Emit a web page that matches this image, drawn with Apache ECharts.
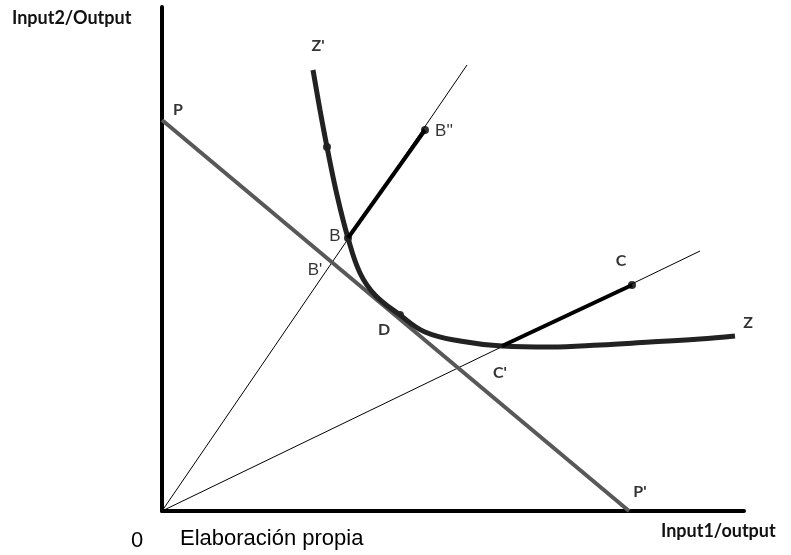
<!DOCTYPE html>
<html>
<head>
<meta charset="utf-8">
<script src="https://cdn.jsdelivr.net/npm/echarts@6/dist/echarts.min.js"></script>
<style>
  html, body { margin: 0; padding: 0; background: #fff; }
  #chart { width: 791px; height: 555px; }
</style>
</head>
<body>
<div id="chart"></div>
<script>
// isoquanta Z'Z (unidades del gráfico: origen en 0,0)
const curveZ = [
  [151, 441], [158, 401], [165, 364], [175, 316], [186, 273], [198, 238],
  [213, 216], [238, 196], [263, 179], [298, 170], [340, 165], [388, 164],
  [438, 166], [488, 169], [538, 172], [573, 175]
];
// recta de precios P-P'
const lineP = [[0, 391], [467, 0]];
// rayos desde el origen
const rayB = [[0, 0], [305, 446]];
const rayC = [[0, 0], [538, 260]];
// tramos gruesos B-B'' y C'-C
const segB = [[186, 273], [263, 381]];
const segC = [[340, 165], [470, 226]];
// puntos marcados
const dots = [[165, 364], [186, 273], [263, 381], [238, 196], [470, 226]];
// etiquetas: [x, y, texto]
const boldLabels = [
  [156, 465, "Z'"], [16, 401, 'P'], [222, 181, 'D'], [459, 250, 'C'],
  [338, 138, "C'"], [586, 188, 'Z'], [478, 19, "P'"]
];
const plainLabels = [
  [282, 380, "B''"], [173, 275, 'B'], [153, 241, "B'"]
];

const myChart = echarts.init(document.getElementById('chart'));

const labelSeries = (data, font, weight, size) => ({
  type: 'scatter',
  data: data,
  symbolSize: 0,
  clip: false,
  silent: true,
  label: {
    show: true,
    position: 'inside',
    formatter: p => p.data[2],
    color: '#000',
    fontFamily: font,
    fontWeight: weight,
    fontSize: size
  }
});

const option = {
  animation: false,
  grid: { left: 162, top: 7, width: 582, height: 504 },
  xAxis: {
    type: 'value', min: 0, max: 582,
    splitLine: { show: false },
    axisTick: { show: false },
    axisLabel: { show: false },
    axisLine: { show: true, onZero: false, lineStyle: { color: '#000', width: 4 } }
  },
  yAxis: {
    type: 'value', min: 0, max: 504,
    splitLine: { show: false },
    axisTick: { show: false },
    axisLabel: { show: false },
    axisLine: { show: true, onZero: false, lineStyle: { color: '#000', width: 4 } }
  },
  graphic: [
    { type: 'text', left: 12, top: 9,
      style: { text: 'Input2/Output', font: 'bold 18px Lato', fill: '#111' } },
    { type: 'text', left: 661, top: 522,
      style: { text: 'Input1/output', font: 'bold 18px Lato', fill: '#111' } },
    { type: 'text', left: 131, top: 530,
      style: { text: '0', font: '22px "Liberation Sans"', fill: '#000' } },
    { type: 'text', left: 180, top: 528,
      style: { text: 'Elaboración propia', font: '22px "Liberation Sans"', fill: '#000' } }
  ],
  series: [
    { type: 'line', data: rayB, symbol: 'none', silent: true,
      lineStyle: { color: '#000', width: 1 } },
    { type: 'line', data: rayC, symbol: 'none', silent: true,
      lineStyle: { color: '#000', width: 1 } },
    { type: 'line', data: lineP, symbol: 'none', silent: true,
      lineStyle: { color: '#585858', width: 4 } },
    { type: 'line', data: curveZ, symbol: 'none', smooth: 0.4, silent: true,
      lineStyle: { color: '#222', width: 5 } },
    { type: 'line', data: segB, symbol: 'none', silent: true,
      lineStyle: { color: '#000', width: 4 } },
    { type: 'line', data: segC, symbol: 'none', silent: true,
      lineStyle: { color: '#000', width: 4 } },
    { type: 'scatter', data: dots, symbolSize: 8, silent: true,
      itemStyle: { color: '#000' } },
    labelSeries(boldLabels, 'Lato', 'bold', 16),
    labelSeries(plainLabels, 'Liberation Sans', 'normal', 17)
  ]
};

myChart.setOption(option);
</script>
</body>
</html>
